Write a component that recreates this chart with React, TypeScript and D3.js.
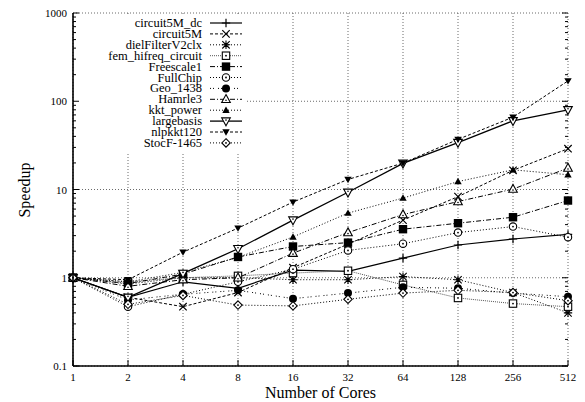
import React from "react";
import * as d3 from "d3";

const cores = [1, 2, 4, 8, 16, 32, 64, 128, 256, 512];
const yTicks = [0.1, 1, 10, 100, 1000];
const yTickLabels = ["0.1", "1", "10", "100", "1000"];

const seriesNames = [
  "circuit5M_dc",
  "circuit5M",
  "dielFilterV2clx",
  "fem_hifreq_circuit",
  "Freescale1",
  "FullChip",
  "Geo_1438",
  "Hamrle3",
  "kkt_power",
  "largebasis",
  "nlpkkt120",
  "StocF-1465",
];

const circuit5M_dc = [1, 0.6, 0.9, 0.76, 1.22, 1.18, 1.67, 2.35, 2.75, 3.1];
const circuit5M = [1, 0.6, 0.47, 0.68, 1.3, 2.4, 4.5, 8.3, 16.5, 29];
const dielFilterV2clx = [1, 0.85, 1.0, 1.0, 0.95, 0.95, 1.03, 0.95, 0.68, 0.4];
const fem_hifreq_circuit = [1, 0.9, 1.0, 1.05, 1.13, 1.2, 0.83, 0.59, 0.51, 0.47];
const Freescale1 = [1, 0.86, 1.1, 1.72, 2.26, 2.5, 3.55, 4.15, 4.85, 7.5];
const FullChip = [1, 0.47, 0.65, 0.9, 1.25, 2.04, 2.43, 3.25, 3.8, 2.88];
const Geo_1438 = [1, 0.56, 0.65, 0.72, 0.58, 0.67, 0.78, 0.76, 0.67, 0.61];
const Hamrle3 = [1, 0.8, 0.95, 1.0, 1.9, 3.25, 5.2, 7.3, 10.1, 17.5];
const kkt_power = [1, 0.9, 1.15, 1.7, 2.9, 5.4, 8.0, 12.3, 16.7, 14.7];
const largebasis = [1, 0.6, 1.12, 2.13, 4.5, 9.3, 19.8, 34, 60, 80];
const nlpkkt120 = [1, 0.95, 1.95, 3.65, 7.2, 13, 19.9, 37, 66, 170];
const StocF_1465 = [1, 0.5, 0.63, 0.49, 0.48, 0.57, 0.67, 0.72, 0.68, 0.55];

const seriesValues = [
  circuit5M_dc,
  circuit5M,
  dielFilterV2clx,
  fem_hifreq_circuit,
  Freescale1,
  FullChip,
  Geo_1438,
  Hamrle3,
  kkt_power,
  largebasis,
  nlpkkt120,
  StocF_1465,
];

type Style = { dash: string; width: number; color: string; marker: string };
const styles: Style[] = [
  { dash: "", width: 1.2, color: "#000", marker: "plus" },
  { dash: "3,2", width: 1, color: "#000", marker: "cross" },
  { dash: "1,2", width: 1, color: "#000", marker: "star" },
  { dash: "1,1", width: 1, color: "#555", marker: "openSquare" },
  { dash: "5,2,1,2", width: 1, color: "#000", marker: "filledSquare" },
  { dash: "1,2", width: 1, color: "#000", marker: "openCircle" },
  { dash: "1,2,1,4", width: 1, color: "#000", marker: "filledCircle" },
  { dash: "5,2,1,2", width: 1, color: "#000", marker: "openTriangle" },
  { dash: "1,2", width: 1, color: "#000", marker: "filledTriangle" },
  { dash: "", width: 1.3, color: "#000", marker: "openDown" },
  { dash: "3,2", width: 1, color: "#000", marker: "filledDown" },
  { dash: "1,2", width: 1, color: "#000", marker: "openDiamond" },
];

const W = 585;
const H = 402;
const left = 73;
const right = 568;
const top = 13;
const bottom = 366;

function Marker({ kind, x, y }: { kind: string; x: number; y: number }) {
  const s = 3.7;
  const t = `translate(${x},${y})`;
  const dot = <circle r={0.9} fill="#000" />;
  switch (kind) {
    case "plus":
      return <path transform={t} d={`M${-s - 0.5},0H${s + 0.5}M0,${-s - 0.5}V${s + 0.5}`} stroke="#000" strokeWidth={1.2} fill="none" />;
    case "cross":
      return <path transform={t} d={`M${-s},${-s}L${s},${s}M${-s},${s}L${s},${-s}`} stroke="#000" strokeWidth={1.2} fill="none" />;
    case "star":
      return <path transform={t} d={`M${-s},${-s}L${s},${s}M${-s},${s}L${s},${-s}M${-s - 0.5},0H${s + 0.5}M0,${-s - 0.5}V${s + 0.5}`} stroke="#000" strokeWidth={1.1} fill="none" />;
    case "openSquare":
      return (
        <g transform={t}>
          <rect x={-s} y={-s} width={2 * s} height={2 * s} fill="#fff" stroke="#000" strokeWidth={1.1} />
          {dot}
        </g>
      );
    case "filledSquare":
      return <rect transform={t} x={-s - 0.5} y={-s - 0.5} width={2 * s + 1} height={2 * s + 1} fill="#000" />;
    case "openCircle":
      return (
        <g transform={t}>
          <circle r={s} fill="#fff" stroke="#000" strokeWidth={1.1} />
          {dot}
        </g>
      );
    case "filledCircle":
      return <circle transform={t} r={s + 0.3} fill="#000" />;
    case "openTriangle":
      return (
        <g transform={t}>
          <path d={`M0,${-s - 1}L${s + 0.6},${s - 0.5}L${-s - 0.6},${s - 0.5}Z`} fill="#fff" stroke="#000" strokeWidth={1.1} />
          <circle cy={1} r={0.8} fill="#000" />
        </g>
      );
    case "filledTriangle":
      return <path transform={t} d={`M0,${-s}L${s},${s - 1}L${-s},${s - 1}Z`} fill="#000" />;
    case "openDown":
      return (
        <g transform={t}>
          <path d={`M0,${s + 1}L${s + 0.6},${-s + 0.5}L${-s - 0.6},${-s + 0.5}Z`} fill="#fff" stroke="#000" strokeWidth={1.1} />
          <circle cy={-1} r={0.8} fill="#000" />
        </g>
      );
    case "filledDown":
      return <path transform={t} d={`M0,${s}L${s},${-s + 1}L${-s},${-s + 1}Z`} fill="#000" />;
    case "openDiamond":
      return (
        <g transform={t}>
          <path d={`M0,${-s - 0.5}L${s + 0.5},0L0,${s + 0.5}L${-s - 0.5},0Z`} fill="#fff" stroke="#000" strokeWidth={1.1} />
          {dot}
        </g>
      );
    default:
      return null;
  }
}

export default function App() {
  const x = d3.scaleLog().base(2).domain([1, 512]).range([left, right]);
  const y = d3.scaleLog().domain([0.1, 1000]).range([bottom, top]);

  const minorY: number[] = [];
  for (let dec = 0.1; dec < 1000; dec *= 10) {
    for (let m = 2; m <= 9; m++) minorY.push(+(dec * m).toPrecision(3));
  }

  const line = d3
    .line<number>()
    .x((_, i) => x(cores[i]))
    .y((v) => y(v));

  const font = "'Liberation Serif', 'DejaVu Serif', serif";

  const legX0 = 210;
  const legX1 = 242;
  const legTextX = 202;
  const legY0 = 23;
  const legDy = 10.9;

  return (
    <svg width={W} height={H} style={{ position: "absolute", left: 0, top: 0, background: "#fff" }} fontFamily={font}>
      <rect width={W} height={H} fill="#fff" />
      {/* grid */}
      <g stroke="#444" strokeWidth={0.8} strokeDasharray="1,2">
        {cores.map((c) => (
          <line key={"gx" + c} x1={x(c)} x2={x(c)} y1={top} y2={bottom} />
        ))}
        {yTicks.map((v) => (
          <line key={"gy" + v} x1={left} x2={right} y1={y(v)} y2={y(v)} />
        ))}
      </g>
      {/* legend background */}
      <rect x={75} y={14} width={171} height={138} fill="#fff" />
      {/* ticks */}
      <g stroke="#000" strokeWidth={1}>
        {yTicks.map((v) => (
          <g key={"ty" + v}>
            <line x1={left} x2={left + 6} y1={y(v)} y2={y(v)} />
            <line x1={right} x2={right - 6} y1={y(v)} y2={y(v)} />
          </g>
        ))}
        {minorY.map((v) => (
          <g key={"my" + v}>
            <line x1={left} x2={left + 3} y1={y(v)} y2={y(v)} />
            <line x1={right} x2={right - 3} y1={y(v)} y2={y(v)} />
          </g>
        ))}
        {cores.map((c) => (
          <line key={"tx" + c} x1={x(c)} x2={x(c)} y1={bottom} y2={bottom - 6} />
        ))}
      </g>
      {/* series lines */}
      {seriesValues.map((vals, si) => (
        <path
          key={"l" + si}
          d={line(vals) || ""}
          fill="none"
          stroke={styles[si].color}
          strokeWidth={styles[si].width}
          strokeDasharray={styles[si].dash || undefined}
        />
      ))}
      {/* markers */}
      {seriesValues.map((vals, si) => (
        <g key={"m" + si}>
          {vals.map((v, i) => (
            <Marker key={i} kind={styles[si].marker} x={x(cores[i])} y={y(v)} />
          ))}
        </g>
      ))}
      {/* axes */}
      <line x1={left} x2={left} y1={top} y2={bottom} stroke="#000" strokeWidth={1.6} />
      <line x1={left} x2={right} y1={bottom} y2={bottom} stroke="#000" strokeWidth={1.6} />
      {/* tick labels */}
      <g fontSize={11} fill="#000">
        {yTicks.map((v, i) => (
          <text key={"yl" + v} x={67} y={y(v) + 4} textAnchor="end">
            {yTickLabels[i]}
          </text>
        ))}
        {cores.map((c) => (
          <text key={"xl" + c} x={x(c)} y={381} textAnchor="middle">
            {String(c)}
          </text>
        ))}
      </g>
      {/* axis titles */}
      <text x={(left + right) / 2} y={398} textAnchor="middle" fontSize={16}>
        Number of Cores
      </text>
      <text transform={`translate(30,190) rotate(-90)`} textAnchor="middle" fontSize={16}>
        Speedup
      </text>
      {/* legend */}
      {seriesNames.map((name, si) => {
        const ly = legY0 + si * legDy;
        const st = styles[si];
        return (
          <g key={"leg" + si}>
            <text x={legTextX} y={ly + 4} textAnchor="end" fontSize={12.5}>
              {name}
            </text>
            <line
              x1={legX0}
              x2={legX1}
              y1={ly}
              y2={ly}
              stroke={st.color}
              strokeWidth={st.width}
              strokeDasharray={st.dash || undefined}
            />
            <Marker kind={st.marker} x={(legX0 + legX1) / 2} y={ly} />
          </g>
        );
      })}
    </svg>
  );
}
